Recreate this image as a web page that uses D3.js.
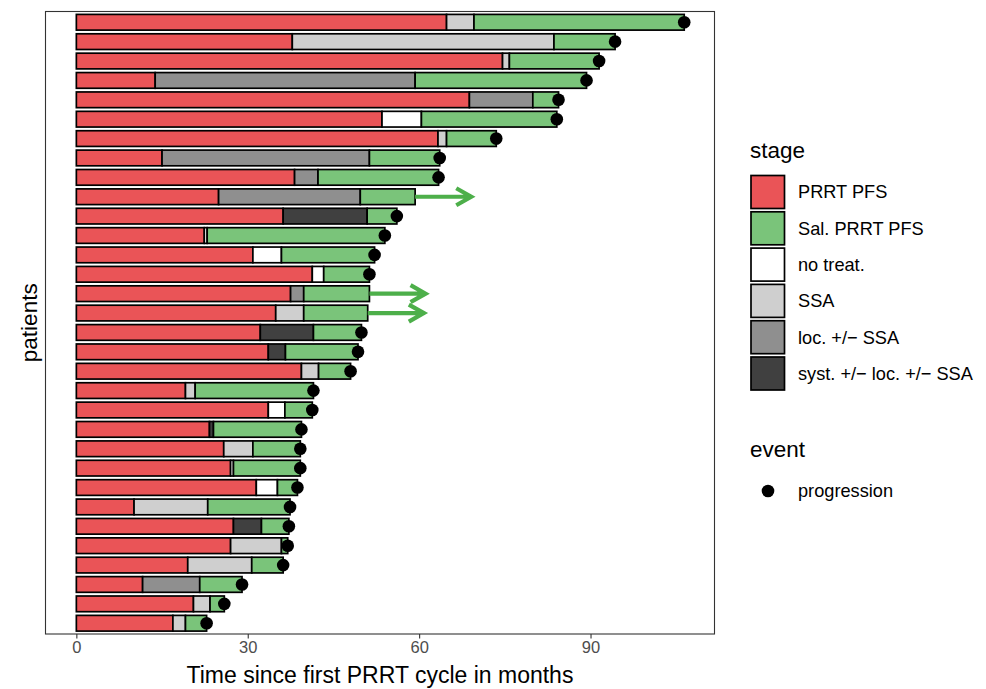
<!DOCTYPE html>
<html>
<head>
<meta charset="utf-8">
<script src="https://cdn.jsdelivr.net/npm/d3@7"></script>
<style>
  body { margin: 0; background: #fff; }
  text { font-family: "Liberation Sans", Arial, sans-serif; }
</style>
</head>
<body>
<svg id="chart" width="986" height="689"></svg>
<script>
// patients, top row first
const patients = [1, 2, 3, 4, 5, 6, 7, 8, 9, 10, 11, 12, 13, 14, 15, 16,
    17, 18, 19, 20, 21, 22, 23, 24, 25, 26, 27, 28, 29, 30, 31, 32];

// end of PRRT PFS (months)
const prrtEnd = [64.8, 37.8, 74.6, 13.8, 68.8, 53.5, 63.3, 15.0, 38.2, 24.9, 36.2, 22.4, 30.9, 41.3, 37.5, 34.9,
    32.2, 33.6, 39.4, 19.1, 33.6, 23.3, 25.8, 27.0, 31.5, 10.1, 27.5, 27.0, 19.5, 11.6, 20.5, 16.9];

// stage between PRRT and salvage PRRT
const gapStage = ['SSA', 'SSA', 'SSA', 'loc. +/\u2212 SSA', 'loc. +/\u2212 SSA', 'no treat.', 'SSA', 'loc. +/\u2212 SSA',
    'loc. +/\u2212 SSA', 'loc. +/\u2212 SSA', 'syst. +/\u2212 loc. +/\u2212 SSA', 'no treat.', 'no treat.', 'no treat.', 'loc. +/\u2212 SSA', 'SSA',
    'syst. +/\u2212 loc. +/\u2212 SSA', 'syst. +/\u2212 loc. +/\u2212 SSA', 'SSA', 'SSA', 'no treat.', 'syst. +/\u2212 loc. +/\u2212 SSA', 'SSA', 'no treat.',
    'no treat.', 'SSA', 'syst. +/\u2212 loc. +/\u2212 SSA', 'SSA', 'SSA', 'loc. +/\u2212 SSA', 'SSA', 'SSA'];

// end of that in-between stage (= start of salvage PRRT)
const gapEnd = [69.6, 83.6, 75.8, 59.3, 79.9, 60.4, 64.8, 51.3, 42.3, 49.7, 50.9, 22.9, 35.9, 43.3, 39.8, 39.8,
    41.5, 36.6, 42.4, 20.8, 36.5, 24.0, 30.9, 27.5, 35.2, 23.0, 32.4, 35.9, 30.7, 21.6, 23.4, 19.1];

// end of salvage PRRT PFS
const salEnd = [106.4, 94.3, 91.5, 89.3, 84.4, 84.1, 73.5, 63.6, 63.4, 59.3, 56.1, 54.0, 52.2, 51.3, 51.3, 51.0,
    49.9, 49.3, 48.0, 41.5, 41.3, 39.4, 39.2, 39.2, 38.7, 37.4, 37.2, 37.0, 36.2, 29.0, 25.9, 22.8];

// progression at the end, or still ongoing (arrow)
const progressed = [true, true, true, true, true, true, true, true, true, false, true, true, true, true, false, false,
    true, true, true, true, true, true, true, true, true, true, true, true, true, true, true, true];

const stages = ['PRRT PFS', 'Sal. PRRT PFS', 'no treat.', 'SSA', 'loc. +/\u2212 SSA', 'syst. +/\u2212 loc. +/\u2212 SSA'];
const stageColors = ['#EA5457', '#7AC47A', '#FFFFFF', '#CFCFCF', '#8F8F8F', '#404040'];
const xTicks = [0, 30, 60, 90];
const arrowMonths = 10;

const panel = { left: 45.5, right: 714.5, top: 11.5, bottom: 634 };

const svg = d3.select('#chart');

const x = d3.scaleLinear().domain([-5.4, 111.7]).range([panel.left, panel.right]);
const y = d3.scaleBand().domain(patients).range([panel.top, panel.bottom])
    .paddingInner(0.19).paddingOuter(0.15);
const color = d3.scaleOrdinal().domain(stages).range(stageColors);

const rows = patients.map((p, i) => ({
    id: p,
    end: salEnd[i],
    progressed: progressed[i],
    segs: [
        { stage: 'PRRT PFS', x0: 0, x1: prrtEnd[i] },
        { stage: gapStage[i], x0: prrtEnd[i], x1: gapEnd[i] },
        { stage: 'Sal. PRRT PFS', x0: gapEnd[i], x1: salEnd[i] },
    ],
}));

// panel
svg.append('rect')
    .attr('x', panel.left).attr('y', panel.top)
    .attr('width', panel.right - panel.left).attr('height', panel.bottom - panel.top)
    .attr('fill', 'none').attr('stroke', '#333').attr('stroke-width', 1.1);

// bars
const rowG = svg.append('g').selectAll('g')
    .data(rows)
    .enter()
    .append('g')
    .attr('transform', (d) => `translate(0, ${y(d.id)})`);

rowG.selectAll('rect')
    .data((d) => d.segs)
    .enter()
    .append('rect')
    .attr('x', (d) => x(d.x0))
    .attr('width', (d) => x(d.x1) - x(d.x0))
    .attr('y', 0)
    .attr('height', y.bandwidth())
    .attr('fill', (d) => color(d.stage))
    .attr('stroke', 'black')
    .attr('stroke-width', 1.7);

// ongoing arrows
svg.append('g')
    .selectAll('path')
    .data(rows.filter((d) => !d.progressed))
    .enter()
    .append('path')
    .attr('d', (d) => {
        const x0 = x(d.end);
        const x1 = x(d.end + arrowMonths);
        const cy = y(d.id) + y.bandwidth() / 2;
        return `M${x0},${cy}L${x1 - 2},${cy}M${x1 - 16},${cy - 8.5}L${x1 - 1},${cy}L${x1 - 16},${cy + 8.5}`;
    })
    .attr('fill', 'none')
    .attr('stroke', '#4DAF4A')
    .attr('stroke-width', 4.2);

// progression dots
svg.append('g')
    .selectAll('circle')
    .data(rows.filter((d) => d.progressed))
    .enter()
    .append('circle')
    .attr('cx', (d) => x(d.end))
    .attr('cy', (d) => y(d.id) + y.bandwidth() / 2)
    .attr('r', 6.3)
    .attr('fill', 'black');

// x axis
const xAxis = d3.axisBottom(x).tickValues(xTicks).tickSize(4.5).tickPadding(3);
const axG = svg.append('g')
    .attr('transform', `translate(0, ${panel.bottom})`)
    .call(xAxis);
axG.select('.domain').remove();
axG.selectAll('line').attr('stroke', '#333').attr('stroke-width', 1.1);
axG.selectAll('text')
    .attr('fill', '#4D4D4D')
    .style('font-size', '16.5px')
    .style('font-family', '"Liberation Sans", Arial, sans-serif');

svg.append('text')
    .attr('x', (panel.left + panel.right) / 2)
    .attr('y', 683)
    .attr('text-anchor', 'middle')
    .style('font-size', '23px')
    .text('Time since first PRRT cycle in months');

svg.append('text')
    .attr('transform', `translate(37, ${(panel.top + panel.bottom) / 2}) rotate(-90)`)
    .attr('text-anchor', 'middle')
    .style('font-size', '22.5px')
    .text('patients');

// legend: stage
const legend = svg.append('g');
legend.append('text')
    .attr('x', 750).attr('y', 158)
    .style('font-size', '22.5px')
    .text('stage');

const keys = legend.selectAll('.key')
    .data(stages)
    .enter()
    .append('g')
    .attr('class', 'key')
    .attr('transform', (d, i) => `translate(751, ${175.5 + i * 36.3})`);

keys.append('rect')
    .attr('width', 33.5).attr('height', 33)
    .attr('fill', (d) => color(d))
    .attr('stroke', 'black')
    .attr('stroke-width', 1.7);

keys.append('text')
    .attr('x', 47).attr('y', 16.5)
    .attr('dy', '0.35em')
    .style('font-size', '18.2px')
    .text((d) => d);

// legend: event
legend.append('text')
    .attr('x', 750).attr('y', 457)
    .style('font-size', '22.5px')
    .text('event');

legend.append('circle')
    .attr('cx', 768).attr('cy', 491).attr('r', 6.3)
    .attr('fill', 'black');

legend.append('text')
    .attr('x', 798).attr('y', 491)
    .attr('dy', '0.35em')
    .style('font-size', '18.2px')
    .text('progression');
</script>
</body>
</html>
